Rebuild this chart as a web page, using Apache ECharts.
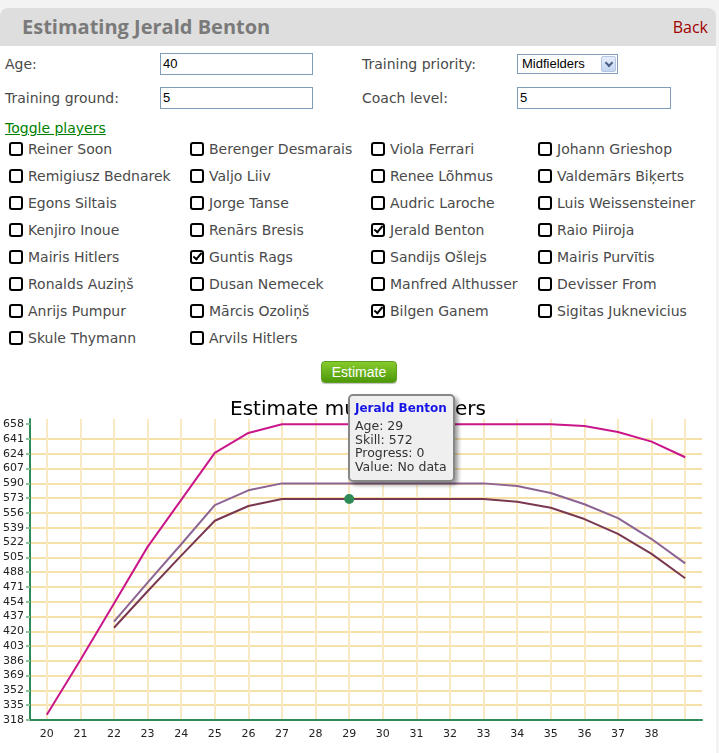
<!DOCTYPE html>
<html>
<head>
<meta charset="utf-8">
<script src="https://cdn.jsdelivr.net/npm/echarts@6/dist/echarts.min.js"></script>
<style>
  html, body { margin: 0; padding: 0; width: 719px; height: 753px; overflow: hidden; background: #f3f3f3; }
  #panel { position: absolute; left: 0; top: 8px; width: 716px; height: 745px; background: #fff; border-radius: 8px 8px 0 0; }
  #head { position: absolute; left: 0; top: 8px; width: 716px; height: 38px; background: #dedede; border-radius: 8px 8px 0 0; }
  #head h1 { position: absolute; left: 22px; top: 0; margin: 0; font: bold 20px "Open Sans"; line-height: 38px; color: #7a7a7a; }
  #head a { position: absolute; right: 8px; top: 0; font: 16px "Open Sans"; line-height: 38px; color: #a00000; text-decoration: none; }
  .lbl { position: absolute; font: 14px "DejaVu Sans"; line-height: 16px; color: #4a4a4a; white-space: nowrap; }
  .inp { position: absolute; box-sizing: border-box; height: 22px; border: 1px solid #7f9db9; background: #fff;
         font: 13px "Liberation Sans"; line-height: 20px; padding-left: 2px; color: #000; }
  .sel { position: absolute; box-sizing: border-box; left: 517px; top: 54px; width: 101px; height: 20px; border: 1px solid #7f9db9;
         background: #fff; font: 13px "Liberation Sans"; line-height: 18px; padding-left: 4px; color: #000; }
  .sel .arr { position: absolute; right: 1px; top: 1px; width: 15px; height: 16px; box-sizing: border-box; border: 1px solid #b4c7e2;
              border-radius: 2px; background: linear-gradient(#e6eefb, #c3d5f0); }
  .sel .arr::after { content: ""; position: absolute; left: 4px; top: 3px; width: 4px; height: 4px; border: solid #4d6185;
                     border-width: 0 2px 2px 0; transform: rotate(45deg); }
  #toggle { position: absolute; left: 5px; top: 120px; font: 14px "DejaVu Sans"; line-height: 16px; color: #008000; text-decoration: underline; }
  .cb { position: absolute; box-sizing: border-box; width: 14px; height: 14px; border: 2.5px solid #000; border-radius: 3px; background: #fff; }
  .cb.on::after { content: ""; position: absolute; left: 2.5px; top: -1px; width: 3px; height: 7px; border: solid #000;
                  border-width: 0 2.5px 2.5px 0; transform: rotate(40deg); }
  #btn { position: absolute; left: 321px; top: 361px; width: 76px; height: 22px; box-sizing: border-box; border: 1px solid #5c9e1e;
         border-radius: 4px; background: linear-gradient(#86cb2c, #4e990a); color: #fff; font: 14px "Liberation Sans";
         line-height: 20px; text-align: center; box-shadow: 0 1px 1px rgba(0,0,0,0.25); }
  #chart { position: absolute; left: 0; top: 390px; width: 716px; height: 363px; }
</style>
</head>
<body>
<div id="panel"></div>
<div id="head"><h1>Estimating Jerald Benton</h1><a href="#">Back</a></div>

<div class="lbl" style="left:5px;top:56px">Age:</div>
<div class="inp" style="left:160px;top:53px;width:153px">40</div>
<div class="lbl" style="left:362px;top:56px">Training priority:</div>
<div class="sel">Midfielders<span class="arr"></span></div>

<div class="lbl" style="left:5px;top:90px">Training ground:</div>
<div class="inp" style="left:160px;top:87px;width:153px">5</div>
<div class="lbl" style="left:362px;top:90px">Coach level:</div>
<div class="inp" style="left:517px;top:87px;width:154px">5</div>

<div id="toggle">Toggle players</div>
<div id="players"></div>
<div id="btn">Estimate</div>

<div id="chart"></div>

<script>
// players in the toggle list, row by row (4 columns)
const PLAYERS = [
  "Reiner Soon", "Berenger Desmarais", "Viola Ferrari", "Johann Grieshop",
  "Remigiusz Bednarek", "Valjo Liiv", "Renee Lõhmus", "Valdemārs Biķerts",
  "Egons Siltais", "Jorge Tanse", "Audric Laroche", "Luis Weissensteiner",
  "Kenjiro Inoue", "Renārs Bresis", "Jerald Benton", "Raio Piiroja",
  "Mairis Hitlers", "Guntis Rags", "Sandijs Ošlejs", "Mairis Purvītis",
  "Ronalds Auziņš", "Dusan Nemecek", "Manfred Althusser", "Devisser From",
  "Anrijs Pumpur", "Mārcis Ozoliņš", "Bilgen Ganem", "Sigitas Juknevicius",
  "Skule Thymann", "Arvils Hitlers"
]
const CHECKED = ["Jerald Benton", "Guntis Rags", "Bilgen Ganem"]

// chart data
const AGES = ["20", "21", "22", "23", "24", "25", "26", "27", "28", "29",
              "30", "31", "32", "33", "34", "35", "36", "37", "38", "39"]
const Y_TICKS = [318, 335, 352, 369, 386, 403, 420, 437, 454, 471, 488,
                 505, 522, 539, 556, 573, 590, 607, 624, 641, 658]
const GUNTIS_RAGS = [324, 387, 452, 517, 571, 625, 648, 658, 658, 658,
                     658, 658, 658, 658, 658, 658, 656, 649, 638, 620]
const BILGEN_GANEM = ["-", "-", 431, 476, 520, 565, 582, 590, 590, 590,
                      590, 590, 590, 590, 587, 579, 566, 550, 526, 498]
const JERALD_BENTON = ["-", "-", 424, 466, 507, 547, 564, 572, 572, 572,
                       572, 572, 572, 572, 569, 562, 549, 532, 509, 481]
const HOVER_INDEX = 9
const HOVER_PROGRESS = 0
const HOVER_VALUE = "No data"

const COL_X = [9, 190, 371, 538]
const ROW_Y = 149
const ROW_STEP = 27

function renderPlayers() {
  const box = document.getElementById("players")
  box.innerHTML = PLAYERS.map((name, i) => {
    const x = COL_X[i % 4]
    const y = ROW_Y + Math.floor(i / 4) * ROW_STEP
    const on = CHECKED.includes(name) ? " on" : ""
    return `<span class="cb${on}" style="left:${x}px;top:${y - 7}px"></span>` +
           `<span class="lbl" style="left:${x + 19}px;top:${y - 8}px">${name}</span>`
  }).join("")
}

function hoverPoint(values) {
  return values.map((v, i) => i === HOVER_INDEX
    ? { value: v, symbol: "circle", symbolSize: 10, itemStyle: { color: "#2e8b57", borderWidth: 0 } }
    : v)
}

function lineSeries(name, color, values) {
  return {
    name,
    type: "line",
    data: values,
    symbol: "none",
    lineStyle: { color, width: 2 },
    itemStyle: { color },
    emphasis: { disabled: true }
  }
}

function tooltipFormatter(params) {
  return `<div style="font:bold 12px 'DejaVu Sans';color:#1414e6;line-height:14px;margin-bottom:4px">${params.seriesName}</div>` +
    `<div style="font:12.5px 'DejaVu Sans';color:#333;line-height:13.7px">` +
    `Age: ${params.name}<br>Skill: ${params.value}<br>Progress: ${HOVER_PROGRESS}<br>Value: ${HOVER_VALUE}</div>`
}

renderPlayers()

const chart = echarts.init(document.getElementById("chart"), null, { renderer: "canvas" })
const axisFont = { color: "#222", fontSize: 11, fontFamily: "DejaVu Sans" }

chart.setOption({
  animation: false,
  title: {
    text: "Estimate multiple players",
    left: "center",
    top: 5,
    textStyle: { fontFamily: "DejaVu Sans", fontSize: 20, fontWeight: "normal", color: "#000" }
  },
  grid: { left: 29, right: 14, top: 29, bottom: 33 },
  tooltip: {
    trigger: "item",
    triggerOn: "none",
    alwaysShowContent: true,
    transitionDuration: 0,
    position: [348, 4],
    padding: [5, 6, 6, 5],
    backgroundColor: "#efefef",
    borderColor: "#888",
    borderWidth: 2,
    extraCssText: "border-radius:5px;box-shadow:3px 3px 4px rgba(0,0,0,0.4);",
    formatter: tooltipFormatter
  },
  xAxis: {
    type: "category",
    data: AGES,
    boundaryGap: true,
    axisLine: { lineStyle: { color: "#2e8b57", width: 2 } },
    axisTick: { alignWithLabel: true, length: 3, lineStyle: { color: "#8cc09c", width: 2 } },
    axisLabel: { ...axisFont, margin: 9, interval: 0, formatter: (v) => (v === AGES[AGES.length - 1] ? "" : v) },
    splitLine: { show: true, alignWithLabel: true, interval: 0, lineStyle: { color: "#f9e9c2", width: 2 } }
  },
  yAxis: {
    type: "value",
    min: 318,
    max: 664,
    interval: 17,
    axisLine: { show: true, lineStyle: { color: "#2e8b57", width: 2 } },
    axisTick: { show: true, length: 4, lineStyle: { color: "#8cc09c", width: 2 }, customValues: Y_TICKS },
    axisLabel: { ...axisFont, margin: 6, customValues: Y_TICKS },
    splitLine: { show: true, showMinLine: false, showMaxLine: false, lineStyle: { color: "#f6e2a8", width: 2 } }
  },
  series: [
    lineSeries("Guntis Rags", "#c9168a", GUNTIS_RAGS),
    lineSeries("Bilgen Ganem", "#8c6494", BILGEN_GANEM),
    lineSeries("Jerald Benton", "#7a3752", hoverPoint(JERALD_BENTON))
  ]
})

chart.dispatchAction({ type: "showTip", seriesIndex: 2, dataIndex: HOVER_INDEX })
</script>
</body>
</html>
